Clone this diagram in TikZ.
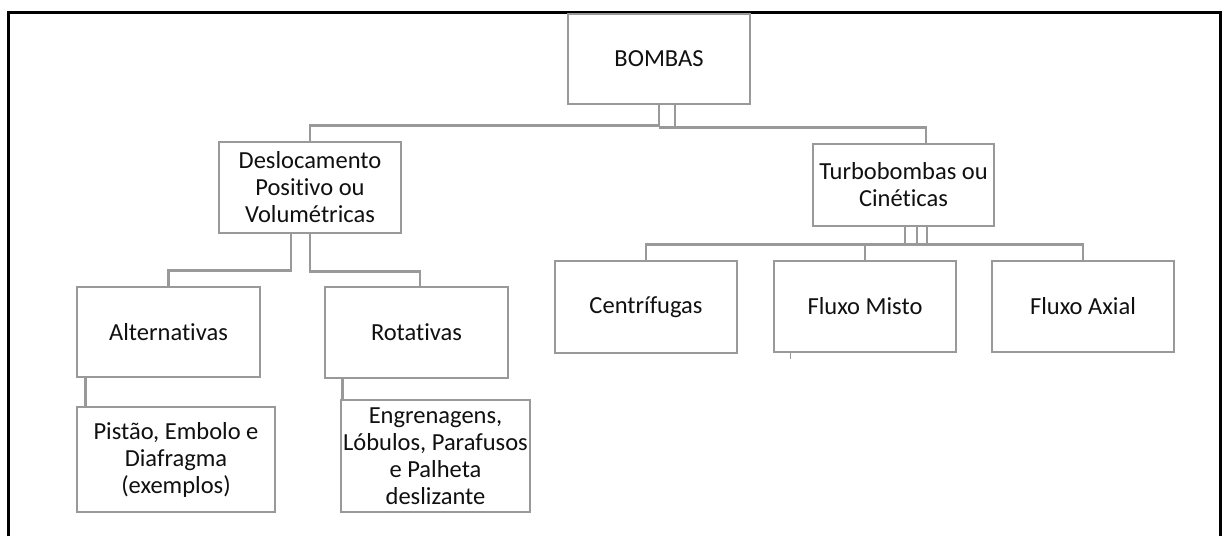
\documentclass[tikz,border=0pt]{standalone}
\usepackage{fontspec}
\setmainfont{Carlito}[Ligatures={NoCommon}]
\usetikzlibrary{calc}
\definecolor{ln}{HTML}{999999}
\definecolor{tx}{HTML}{101010}
\begin{document}
\begin{tikzpicture}[x=1pt,y=-1pt,
  box/.style={draw=ln, line width=2.6pt, rectangle, align=center,
    font=\fontsize{24.5}{27}\selectfont, text=tx, inner sep=1pt},
  conn/.style={draw=ln, line width=2.6pt},
  frame/.style={draw=black, line width=3pt}]
\useasboundingbox (0,0) rectangle (1224,536);
\fill[white] (0,0) rectangle (1224,536);
\draw[frame] (8,536) -- (8,12) -- (1220,12) -- (1220,536);

\node[box, minimum width=182, minimum height=90] (bombas) at (659,59) {BOMBAS};
\node[box, minimum width=182, minimum height=91] (desl) at (310,187.5) {Deslocamento\\Positivo ou\\Volumétricas};
\node[box, minimum width=181, minimum height=82] (turbo) at (903.5,185) {Turbobombas ou\\Cinéticas};
\node[box, minimum width=183, minimum height=90] (alt) at (168.5,332) {Alternativas};
\node[box, minimum width=183, minimum height=91] (rot) at (416.5,332.5) {Rotativas};
\node[box, minimum width=198, minimum height=105] (pist) at (176,459.5) {Pistão, Embolo e\\Diafragma\\(exemplos)};
\node[box, minimum width=189, minimum height=112] (engr) at (435.5,456) {Engrenagens,\\Lóbulos, Parafusos\\e Palheta\\deslizante};
\node[box, minimum width=182, minimum height=92] (centr) at (646,307) {Centrífugas};
\node[box, minimum width=182, minimum height=91] (misto) at (865,306.5) {Fluxo Misto};
\node[box, minimum width=182, minimum height=91] (axial) at (1083,306.5) {Fluxo Axial};

% BOMBAS -> level 1
\draw[conn] (bombas.south) -- ++(0,20) -| (desl.north);
\draw[conn] ($(bombas.south)+(16,0)$) -- ++(0,22) -- ++(-16,0) -| ($(turbo.north)+(22.5,0)$);

% Deslocamento -> Alternativas / Rotativas
\draw[conn] ($(desl.south)+(-19,0)$) -- ++(0,36) -| (alt.north);
\draw[conn] (desl.south) -- ++(0,37) -| ($(rot.north)+(3.5,0)$);

% Alternativas -> Pistao ; Rotativas -> Engrenagens
\draw[conn] ($(alt.south west)+(10,0)$) -- ($(pist.north west)+(10,0)$);
\draw[conn] ($(rot.south west)+(19,0)$) -- ($(engr.north west)+(3,0)$);

% Turbobombas -> three kinds
\draw[conn] ($(turbo.south)+(1.5,0)$) -- ++(0,17) coordinate (tb);
\draw[conn] ($(turbo.south)+(13.5,0)$) -- ++(0,17);
\draw[conn] ($(turbo.south)+(23.5,0)$) -- ++(0,17);
\draw[conn] (centr.north) |- (tb);
\draw[conn] (axial.north) |- (tb);
\draw[conn] (misto.north) -- (misto.north |- tb);

% small tick below Fluxo Misto
\draw[conn, line width=1.5pt] ($(misto.south west)+(18,0)$) -- ++(0,6);
\end{tikzpicture}
\end{document}
